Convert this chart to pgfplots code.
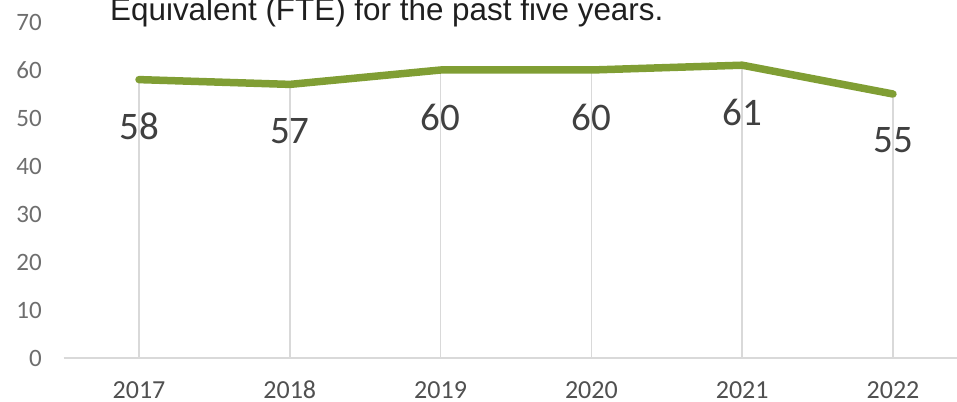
\documentclass[border=0pt]{standalone}
\usepackage{pgfplots}
\pgfplotsset{compat=1.18}
\usepackage{fontspec}
\setmainfont{Carlito}
\newfontfamily\titlefont{Liberation Sans}
\definecolor{lineolive}{RGB}{128,158,52}
\definecolor{gridgray}{RGB}{217,217,217}
\definecolor{ylab}{RGB}{110,110,110}
\definecolor{xlab}{RGB}{80,80,80}
\definecolor{dlab}{RGB}{64,64,64}
\begin{document}
\begin{tikzpicture}[x=1bp,y=1bp]
\begin{axis}[
  at={(63.6bp,44bp)}, anchor=south west,
  scale only axis,
  width=904.8bp, height=336bp,
  xmin=-0.5, xmax=5.5, ymin=0, ymax=70,
  axis line style={draw=none},
  clip=false,
  xtick={0,1,2,3,4,5},
  xticklabels={2017,2018,2019,2020,2021,2022},
  ytick={0,10,20,30,40,50,60,70},
  major tick length=0pt,
  /pgf/number format/assume math mode=true,
  xticklabel style={font=\fontsize{26bp}{30bp}\selectfont, text=xlab, inner sep=0pt, anchor=north, yshift=-23bp},
  yticklabel style={font=\fontsize{25bp}{30bp}\selectfont, text=ylab, inner sep=0pt, anchor=east, xshift=-21.6bp},
  xticklabel pos=lower,
  yticklabel pos=left,
]
\draw[gridgray, line width=1.6bp] (axis cs:-0.5,0) -- (axis cs:5.5,0);
\addplot[ycomb, draw=gridgray, line width=1.6bp, mark=none] coordinates {(0,58) (1,57) (2,60) (3,60) (4,61) (5,55)};
\addplot[draw=lineolive, line width=7.5bp, line join=round, line cap=round, mark=none,
  nodes near coords,
  nodes near coords style={anchor=north, inner sep=0pt, yshift=-30bp, text=dlab, font=\fontsize{39bp}{42bp}\selectfont},
  point meta=explicit symbolic]
  coordinates {(0,58)[58] (1,57)[57] (2,60)[60] (3,60)[60] (4,61)[61] (5,55)[55]};
\end{axis}
\node[anchor=base west, inner sep=0pt, text=black!88, font=\titlefont\fontsize{31.4bp}{36bp}\selectfont] at (110bp,381bp) {Equivalent (FTE) for the past five years.};
\pgfresetboundingbox
\useasboundingbox (0,0) rectangle (957bp,402bp);
\end{tikzpicture}
\end{document}
